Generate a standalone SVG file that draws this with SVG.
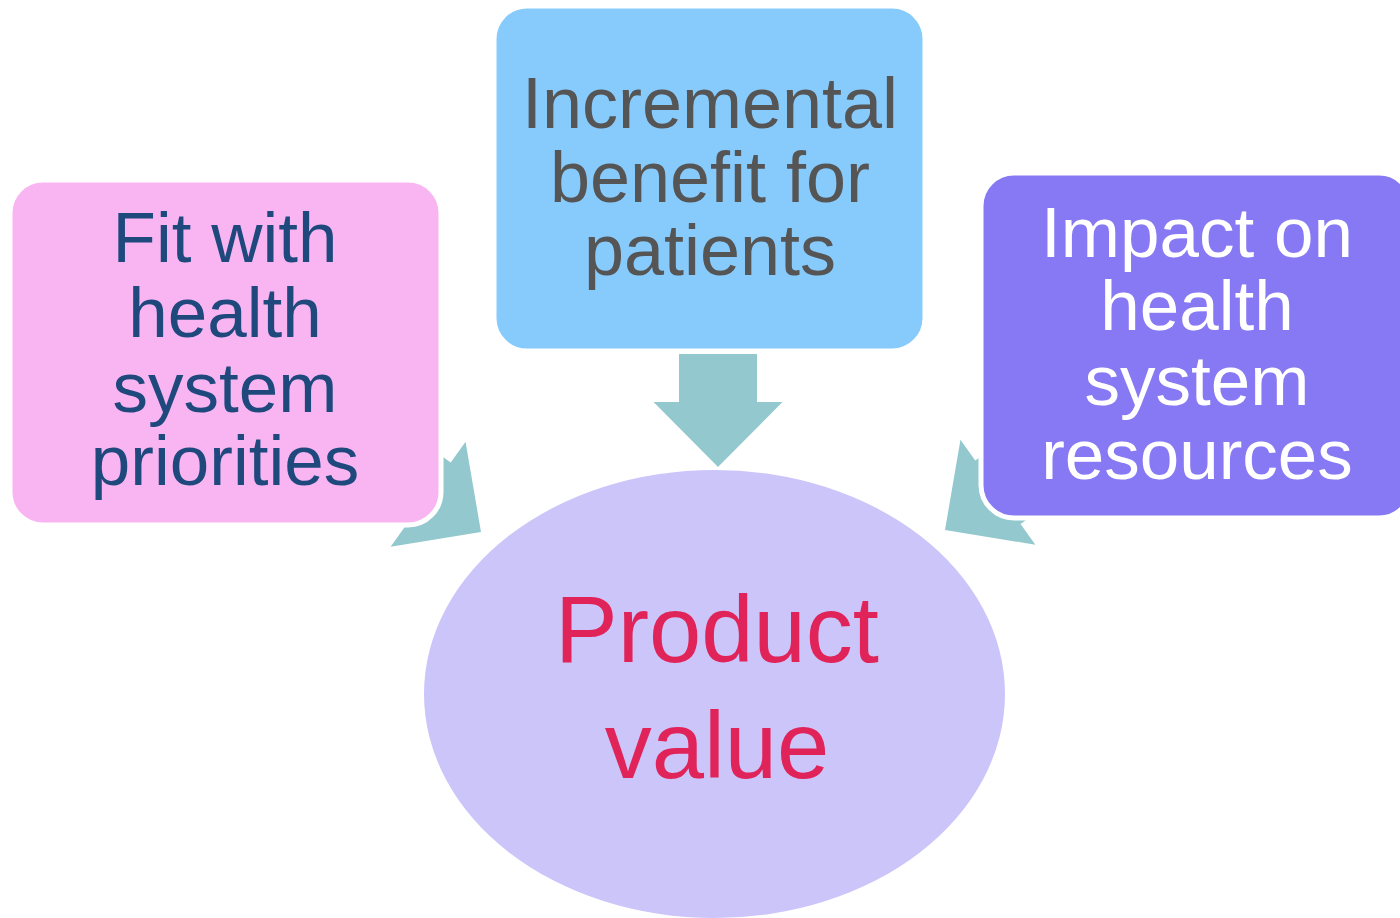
<svg xmlns="http://www.w3.org/2000/svg" xmlns:xlink="http://www.w3.org/1999/xlink" width="1400" height="918" viewBox="0 0 1400 918">
<style>
.box{stroke:#ffffff;stroke-width:5}
.lbl{font-family:"Liberation Sans",Arial,sans-serif;text-anchor:middle}
.arrow{fill:#93C9CE}
</style>
<defs>
<path id="blockArrow" d="M -39,-113 H 39 V -65 H 64.5 L 0,0 L -64.5,-65 H -39 Z"/>
</defs>
<rect width="1400" height="918" fill="#ffffff"/>
<g id="product-value">
<ellipse cx="714.5" cy="694" rx="290.5" ry="224" fill="#CCC5FA"/>
<text class="lbl" x="717" y="662" font-size="94" fill="#E0245A">Product</text>
<text class="lbl" x="717" y="778" font-size="94" fill="#E0245A">value</text>
</g>
<g id="connectors">
<use xlink:href="#blockArrow" class="arrow" transform="translate(718,467)"/>
<use xlink:href="#blockArrow" class="arrow" transform="translate(481,532) rotate(-54.5)"/>
<use xlink:href="#blockArrow" class="arrow" transform="translate(945,530) rotate(54.5)"/>
</g>
<g id="fit-with-health-system-priorities">
<rect class="box" x="10" y="180" width="431" height="345" rx="33" fill="#F9B5F1"/>
<text class="lbl" font-size="71" fill="#1F497D"><tspan x="225" y="262">Fit with</tspan><tspan x="225" y="337">health</tspan><tspan x="225" y="412">system</tspan><tspan x="225" y="485">priorities</tspan></text>
</g>
<g id="incremental-benefit-for-patients">
<rect class="box" x="494" y="6" width="431" height="345" rx="33" fill="#87CBFD"/>
<text class="lbl" font-size="72" fill="#555555"><tspan x="710" y="128">Incremental</tspan><tspan x="710" y="202">benefit for</tspan><tspan x="710" y="275">patients</tspan></text>
</g>
<g id="impact-on-health-system-resources">
<rect class="box" x="981" y="173" width="431" height="345" rx="33" fill="#8779F3"/>
<text class="lbl" font-size="71" fill="#ffffff"><tspan x="1197" y="257">Impact on</tspan><tspan x="1197" y="330">health</tspan><tspan x="1197" y="405">system</tspan><tspan x="1197" y="479">resources</tspan></text>
</g>
</svg>
